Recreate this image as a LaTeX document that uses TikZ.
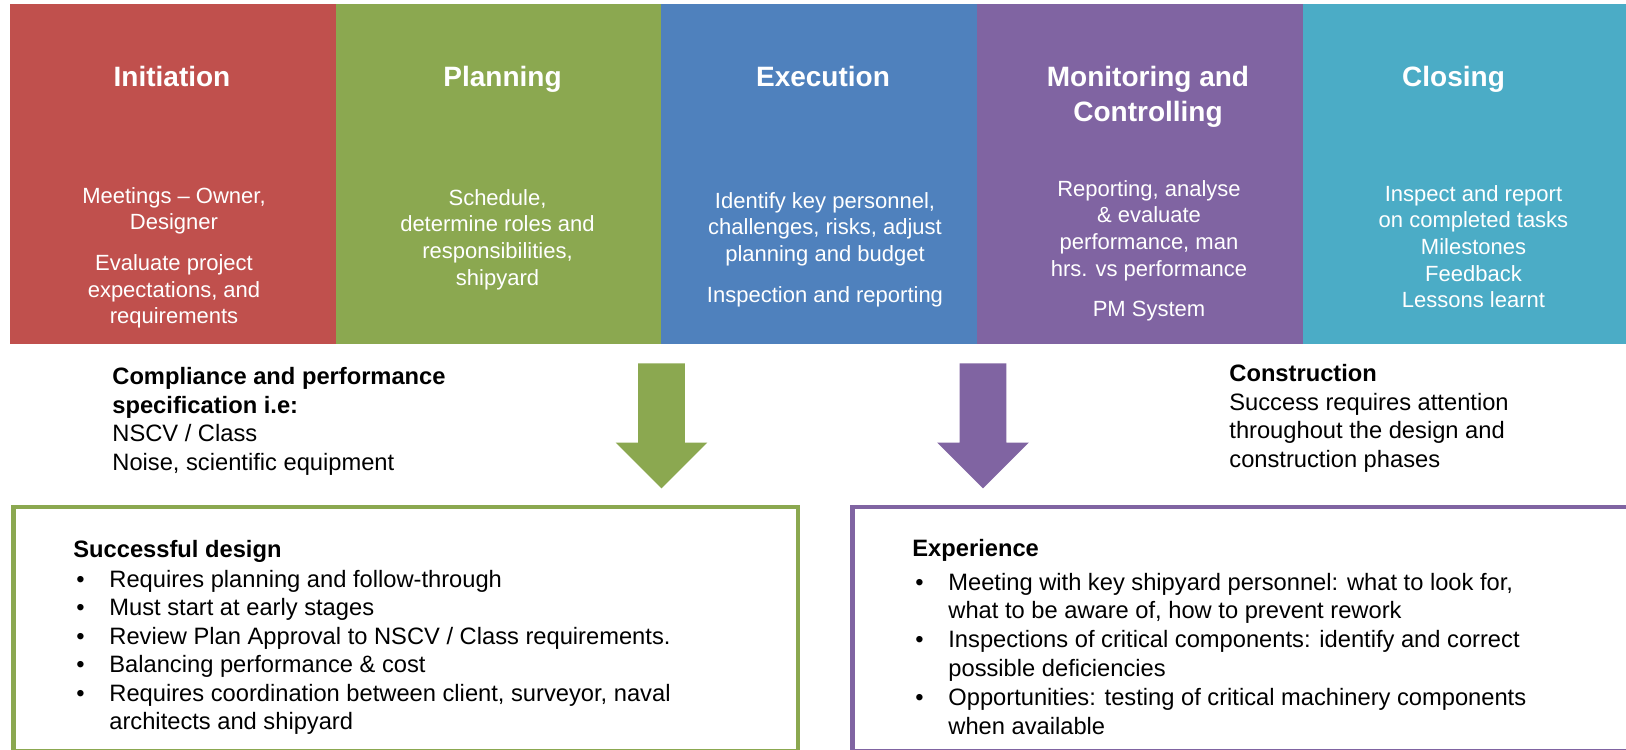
\documentclass[tikz,border=0pt]{standalone}
\usepackage{fontspec}
\setmainfont{Liberation Sans}
\usetikzlibrary{positioning,shapes.arrows}
\definecolor{InitRed}{RGB}{192,80,77}
\definecolor{PlanGreen}{RGB}{139,168,80}
\definecolor{ExecBlue}{RGB}{79,129,189}
\definecolor{CtrlPurple}{RGB}{128,100,162}
\definecolor{CloseTeal}{RGB}{75,172,198}
\newcommand{\bodyfont}{\fontsize{22}{26.6}\selectfont}
\newcommand{\notefont}{\fontsize{23.7}{28.5}\selectfont}
\tikzstyle{phase}=[rectangle, minimum height=340pt, inner sep=0pt, outer sep=0pt]
\tikzstyle{title}=[text=white, font=\bfseries\fontsize{28}{35}\selectfont,
		align=center, inner sep=0pt]
\tikzstyle{body}=[text=white, font=\bodyfont, align=center, inner sep=0pt]
\tikzstyle{note}=[font=\notefont, align=left, inner sep=0pt, anchor=north west]
\tikzstyle{listtext}=[font=\notefont, inner sep=0pt, anchor=north west]
\tikzstyle{listbox}=[rectangle, fill=white, line width=4.5pt, minimum height=244pt,
		anchor=north west, inner sep=0pt]
\tikzstyle{blockarrow}=[single arrow, shape border rotate=270, minimum height=125pt,
		inner sep=23pt, single arrow head extend=22.5pt, anchor=tail]

\begin{document}
\begin{tikzpicture}[thick, x=1pt, y=-1pt]

    \useasboundingbox (0,0) rectangle (1626,750);

    \node (Initiation) [phase, fill=InitRed, minimum width=326pt, anchor=north west] at (10,4) {};
    \node (Planning) [phase, fill=PlanGreen, minimum width=325pt, right=0pt of Initiation] {};
    \node (Execution) [phase, fill=ExecBlue, minimum width=316pt, right=0pt of Planning] {};
    \node (Monitoring) [phase, fill=CtrlPurple, minimum width=326pt, right=0pt of Execution] {};
    \node (Closing) [phase, fill=CloseTeal, minimum width=323pt, right=0pt of Monitoring] {};

    \node (InitTitle) [title, below=62pt of Initiation.north, xshift=-1pt] {Initiation};
    \node (PlanTitle) [title, below=62pt of Planning.north, xshift=4pt] {Planning};
    \node (ExecTitle) [title, below=62pt of Execution.north, xshift=4pt] {Execution};
    \node (CtrlTitle) [title, below=62pt of Monitoring.north, xshift=8pt] {Monitoring and\\Controlling};
    \node (CloseTitle) [title, below=62pt of Closing.north, xshift=-11pt] {Closing};

    \node (InitBody) [body, below=183pt of Initiation.north, xshift=1pt] {
      Meetings -- Owner,\\ Designer\\[14pt]
      Evaluate project\\ expectations, and\\ requirements
    };

    \node (PlanBody) [body, below=185pt of Planning.north, xshift=-1pt] {
      Schedule,\\ determine roles and\\ responsibilities,\\ shipyard
    };

    \node (ExecBody) [body, below=188pt of Execution.north, xshift=6pt] {
      Identify key personnel,\\ challenges, risks, adjust\\ planning and budget\\[14pt]
      Inspection and reporting
    };

    \node (CtrlBody) [body, below=176pt of Monitoring.north, xshift=9pt] {
      Reporting, analyse\\ \& evaluate\\ performance, man\\ hrs. vs performance\\[14pt]
      PM System
    };

    \node (CloseBody) [body, below=181pt of Closing.north, xshift=9pt] {
      Inspect and report\\ on completed tasks\\ Milestones\\ Feedback\\ Lessons learnt
    };

    \node (Compliance) [note] at (112,367) {
      \textbf{Compliance and performance}\\
      \textbf{specification i.e:}\\
      NSCV / Class\\
      Noise, scientific equipment
    };

    \node (Construction) [note] at (1229,364) {
      \textbf{Construction}\\
      Success requires attention\\
      throughout the design and\\
      construction phases
    };

    \node (PlanArrow) [blockarrow, fill=PlanGreen] at (661.5,363) {};
    \node (CtrlArrow) [blockarrow, fill=CtrlPurple] at (983,363) {};

    \node (DesignBox) [listbox, draw=PlanGreen, minimum width=784.5pt] at (11.25,504.5) {};
    \node (ExpBox) [listbox, draw=CtrlPurple, minimum width=800pt] at (850.25,504.5) {};

    \node (DesignList) [listtext] at (73,537) {
      \begin{tabular}{@{}p{36pt}@{}l@{}}
        \multicolumn{2}{@{}l@{}}{\bfseries Successful design}\\[1.5pt]
        \hspace{3pt}\textbullet & Requires planning and follow-through\\
        \hspace{3pt}\textbullet & Must start at early stages\\
        \hspace{3pt}\textbullet & Review Plan Approval to NSCV / Class requirements.\\
        \hspace{3pt}\textbullet & Balancing performance \& cost\\
        \hspace{3pt}\textbullet & Requires coordination between client, surveyor, naval\\
          & architects and shipyard
      \end{tabular}
    };

    \node (ExpList) [listtext, font=\fontsize{23.7}{28.9}\selectfont] at (912,536) {
      \begin{tabular}{@{}p{36pt}@{}l@{}}
        \multicolumn{2}{@{}l@{}}{\bfseries Experience}\\[4.5pt]
        \hspace{3pt}\textbullet & Meeting with key shipyard personnel: what to look for,\\
          & what to be aware of, how to prevent rework\\
        \hspace{3pt}\textbullet & Inspections of critical components: identify and correct\\
          & possible deficiencies\\
        \hspace{3pt}\textbullet & Opportunities: testing of critical machinery components\\
          & when available
      \end{tabular}
    };

\end{tikzpicture}
\end{document}
